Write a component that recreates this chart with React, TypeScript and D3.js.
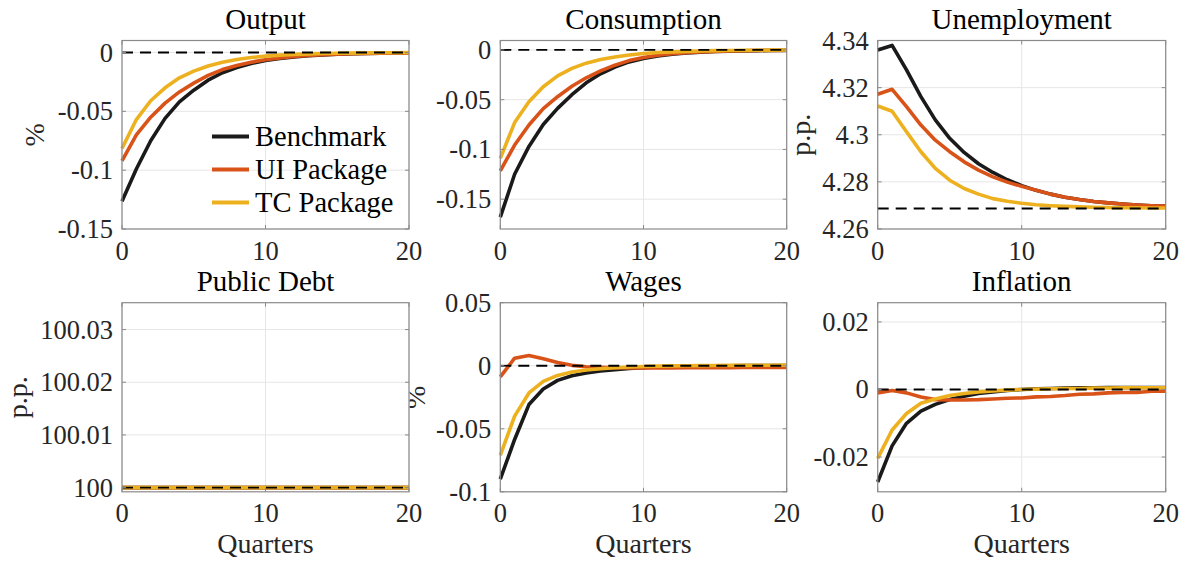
import React from "react";
import * as d3 from "d3";

// Quarters after the shock
const quarters = [0, 1, 2, 3, 4, 5, 6, 7, 8, 9, 10, 11, 12, 13, 14, 15, 16, 17, 18, 19, 20];

const seriesNames = ["Benchmark", "UI Package", "TC Package"];
const seriesColors = ["#1a1a1a", "#d95319", "#edb120"];

// Output (% deviation)
const outputBench = [-0.1265, -0.099, -0.075, -0.056, -0.042, -0.032, -0.0235, -0.0172, -0.0127, -0.0093, -0.0068, -0.005, -0.0037, -0.0027, -0.002, -0.0015, -0.0011, -0.0008, -0.0006, -0.0004, -0.0003];
const outputUI = [-0.092, -0.07, -0.055, -0.043, -0.0335, -0.026, -0.0195, -0.0145, -0.011, -0.0082, -0.0061, -0.0046, -0.0034, -0.0025, -0.0019, -0.0014, -0.001, -0.0008, -0.0006, -0.0004, -0.0003];
const outputTC = [-0.0816, -0.057, -0.041, -0.03, -0.0215, -0.0158, -0.0115, -0.0083, -0.006, -0.0043, -0.0031, -0.0022, -0.0016, -0.0012, -0.0009, -0.0006, -0.0005, -0.0003, -0.0002, -0.0002, -0.0001];

// Consumption (% deviation)
const consBench = [-0.168, -0.125, -0.097, -0.075, -0.0587, -0.045, -0.033, -0.024, -0.0172, -0.012, -0.0085, -0.006, -0.0043, -0.003, -0.0022, -0.0016, -0.0012, -0.0009, -0.0007, -0.0005, -0.0004];
const consUI = [-0.1215, -0.0956, -0.0755, -0.059, -0.047, -0.0365, -0.028, -0.021, -0.0153, -0.0107, -0.0075, -0.0053, -0.0038, -0.0028, -0.002, -0.0015, -0.0011, -0.0008, -0.0006, -0.0004, -0.0003];
const consTC = [-0.109, -0.073, -0.052, -0.037, -0.026, -0.0185, -0.0133, -0.0097, -0.007, -0.005, -0.0036, -0.0026, -0.0019, -0.0014, -0.001, -0.0007, -0.0005, -0.0004, -0.0003, -0.0002, -0.0001];

// Unemployment rate (p.p.)
const unempBench = [4.336, 4.3379, 4.3275, 4.3162, 4.3063, 4.2985, 4.2925, 4.2877, 4.284, 4.2809, 4.2784, 4.2764, 4.2748, 4.2735, 4.2725, 4.2717, 4.2711, 4.2706, 4.2702, 4.2699, 4.2697];
const unempUI = [4.3172, 4.3193, 4.3119, 4.3041, 4.2977, 4.2928, 4.2885, 4.285, 4.2821, 4.2799, 4.2781, 4.2764, 4.2748, 4.2735, 4.2725, 4.2717, 4.2711, 4.2706, 4.2702, 4.2699, 4.2697];
const unempTC = [4.3122, 4.31, 4.3013, 4.2928, 4.2857, 4.2807, 4.2772, 4.2748, 4.2729, 4.2718, 4.2709, 4.2703, 4.2699, 4.2696, 4.2694, 4.2692, 4.2691, 4.269, 4.269, 4.2689, 4.2689];

// Public debt (p.p.)
const debtBench = [100, 100, 100, 100, 100, 100, 100, 100, 100, 100, 100, 100, 100, 100, 100, 100, 100, 100, 100, 100, 100];
const debtUI = [100, 100, 100, 100, 100, 100, 100, 100, 100, 100, 100, 100, 100, 100, 100, 100, 100, 100, 100, 100, 100];
const debtTC = [100, 100, 100, 100, 100, 100, 100, 100, 100, 100, 100, 100, 100, 100, 100, 100, 100, 100, 100, 100, 100];

// Wages (% deviation)
const wagesBench = [-0.09, -0.0585, -0.0308, -0.0184, -0.0116, -0.0079, -0.0058, -0.0042, -0.0032, -0.0022, -0.0015, -0.001, -0.0006, -0.0004, -0.0002, -0.0001, 0, 0.0001, 0.0001, 0.0002, 0.0002];
const wagesUI = [-0.0089, 0.006, 0.0081, 0.0055, 0.0026, 0.0003, -0.0008, -0.0013, -0.0016, -0.0017, -0.0017, -0.0017, -0.0017, -0.0016, -0.0016, -0.0015, -0.0015, -0.0014, -0.0014, -0.0014, -0.0013];
const wagesTC = [-0.0711, -0.04, -0.0216, -0.0124, -0.0077, -0.005, -0.0034, -0.0024, -0.0016, -0.001, -0.0006, -0.0003, -0.0001, 0, 0.0001, 0.0002, 0.0003, 0.0003, 0.0004, 0.0004, 0.0005];

// Inflation
const inflBench = [-0.0274, -0.0167, -0.01, -0.0064, -0.0044, -0.003, -0.002, -0.0012, -0.0007, -0.0003, 0, 0.0002, 0.0003, 0.0004, 0.0005, 0.0005, 0.0006, 0.0006, 0.0006, 0.0006, 0.0006];
const inflUI = [-0.001, -0.0003, -0.001, -0.0022, -0.003, -0.0031, -0.0031, -0.003, -0.0028, -0.0026, -0.0025, -0.0022, -0.0021, -0.0018, -0.0014, -0.0013, -0.001, -0.0009, -0.0009, -0.0005, -0.0005];
const inflTC = [-0.0204, -0.012, -0.0071, -0.0041, -0.0028, -0.0018, -0.0012, -0.0007, -0.0004, -0.0002, 0, 0.0001, 0.0002, 0.0003, 0.0003, 0.0004, 0.0004, 0.0005, 0.0005, 0.0005, 0.0005];

// Steady-state reference levels (dashed lines)
const steadyOutput = 0;
const steadyCons = 0;
const steadyUnemp = 4.2687;
const steadyDebt = 100;
const steadyWages = 0;
const steadyInfl = 0;

// Axis ticks
const xTicks = [0, 10, 20];
const outputTicks = [-0.15, -0.1, -0.05, 0];
const consTicks = [-0.15, -0.1, -0.05, 0];
const unempTicks = [4.26, 4.28, 4.3, 4.32, 4.34];
const debtTicks = [100, 100.01, 100.02, 100.03];
const wagesTicks = [-0.1, -0.05, 0, 0.05];
const inflTicks = [-0.02, 0, 0.02];

const FONT = "'Liberation Serif', 'Times New Roman', serif";
const TEXT = "#262626";

type PanelSpec = {
  title: string;
  series: number[][];
  steady: number;
  yDomain: [number, number];
  yTicks: number[];
  yLabel?: string;
  yLabelX?: number;
  xLabel?: boolean;
  legend?: boolean;
  box: { x0: number; x1: number; y0: number; y1: number };
};

const fmt = (v: number) => d3.format("~g")(+v.toFixed(4)).replace("\u2212", "-");

function Panel({ p }: { p: PanelSpec }) {
  const { x0, x1, y0, y1 } = p.box;
  const x = d3.scaleLinear().domain([0, 20]).range([x0, x1]);
  const y = d3.scaleLinear().domain(p.yDomain).range([y1, y0]);
  const line = d3
    .line<number>()
    .x((_, i) => x(quarters[i]))
    .y((d) => y(d));
  const tickLen = 4;
  const midX = (x0 + x1) / 2;
  const midY = (y0 + y1) / 2;
  return (
    <g>
      {p.yLabel && (
        <text
          transform={`translate(${p.yLabelX},${midY}) rotate(-90)`}
          textAnchor="middle"
          fontFamily={FONT}
          fontSize={28}
          fill={TEXT}
        >
          {p.yLabel}
        </text>
      )}
      <rect x={x0} y={y0} width={x1 - x0} height={y1 - y0} fill="#fff" />
      {/* grid */}
      {p.yTicks.map((t) => (
        <line key={"gy" + t} x1={x0} x2={x1} y1={y(t)} y2={y(t)} stroke="#e6e6e6" strokeWidth={1} />
      ))}
      {xTicks.map((t) => (
        <line key={"gx" + t} x1={x(t)} x2={x(t)} y1={y0} y2={y1} stroke="#e6e6e6" strokeWidth={1} />
      ))}
      {/* series */}
      {p.series.map((s, i) => (
        <path
          key={"s" + i}
          d={line(s) || ""}
          fill="none"
          stroke={seriesColors[i]}
          strokeWidth={3.6}
          strokeLinejoin="round"
        />
      ))}
      <line
        x1={x0}
        x2={x1}
        y1={y(p.steady)}
        y2={y(p.steady)}
        stroke="#000"
        strokeWidth={1.8}
        strokeDasharray="11,7"
      />
      {/* axes box and ticks */}
      <rect x={x0} y={y0} width={x1 - x0} height={y1 - y0} fill="none" stroke="#8a8a8a" strokeWidth={1.2} />
      {p.yTicks.map((t) => (
        <g key={"ty" + t}>
          <line x1={x0} x2={x0 + tickLen} y1={y(t)} y2={y(t)} stroke="#8a8a8a" />
          <line x1={x1} x2={x1 - tickLen} y1={y(t)} y2={y(t)} stroke="#8a8a8a" />
          <text
            x={x0 - 9}
            y={y(t)}
            dy="0.34em"
            textAnchor="end"
            fontFamily={FONT}
            fontSize={26.5}
            fill={TEXT}
          >
            {fmt(t)}
          </text>
        </g>
      ))}
      {xTicks.map((t) => (
        <g key={"tx" + t}>
          <line x1={x(t)} x2={x(t)} y1={y1} y2={y1 - tickLen} stroke="#8a8a8a" />
          <line x1={x(t)} x2={x(t)} y1={y0} y2={y0 + tickLen} stroke="#8a8a8a" />
          <text
            x={x(t)}
            y={y1 + 30.5}
            textAnchor="middle"
            fontFamily={FONT}
            fontSize={26.5}
            fill={TEXT}
          >
            {t}
          </text>
        </g>
      ))}
      <text x={midX} y={y0 - 11.7} textAnchor="middle" fontFamily={FONT} fontSize={29} fill="#000">
        {p.title}
      </text>
      {p.xLabel && (
        <text x={midX} y={y1 + 61} textAnchor="middle" fontFamily={FONT} fontSize={28} fill={TEXT}>
          Quarters
        </text>
      )}
      {p.legend &&
        seriesNames.map((n, i) => (
          <g key={n} transform={`translate(${x0 + 90},${y0 + 96 + i * 33})`}>
            <line x1={0} x2={37} y1={0} y2={0} stroke={seriesColors[i]} strokeWidth={4} />
            <text x={43} y={0} dy="0.34em" fontFamily={FONT} fontSize={28.5} fill="#000">
              {n}
            </text>
          </g>
        ))}
    </g>
  );
}

export default function App() {
  const top = { y0: 40.5, y1: 229 };
  const bot = { y0: 302.7, y1: 491.8 };
  const c1 = { x0: 122, x1: 409 };
  const c2 = { x0: 500.3, x1: 786.7 };
  const c3 = { x0: 877.7, x1: 1165.7 };

  const panels: PanelSpec[] = [
    {
      title: "Output",
      series: [outputBench, outputUI, outputTC],
      steady: steadyOutput,
      yDomain: [-0.15, 0.0102],
      yTicks: outputTicks,
      yLabel: "%",
      yLabelX: 44,
      legend: true,
      box: { ...c1, ...top },
    },
    {
      title: "Consumption",
      series: [consBench, consUI, consTC],
      steady: steadyCons,
      yDomain: [-0.18, 0.0095],
      yTicks: consTicks,
      box: { ...c2, ...top },
    },
    {
      title: "Unemployment",
      series: [unempBench, unempUI, unempTC],
      steady: steadyUnemp,
      yDomain: [4.26, 4.34],
      yTicks: unempTicks,
      yLabel: "p.p.",
      yLabelX: 810,
      box: { ...c3, ...top },
    },
    {
      title: "Wages",
      series: [wagesBench, wagesUI, wagesTC],
      steady: steadyWages,
      yDomain: [-0.1, 0.05],
      yTicks: wagesTicks,
      yLabel: "%",
      yLabelX: 425,
      xLabel: true,
      box: { ...c2, ...bot },
    },
    {
      title: "Inflation",
      series: [inflBench, inflUI, inflTC],
      steady: steadyInfl,
      yDomain: [-0.0303, 0.0257],
      yTicks: inflTicks,
      xLabel: true,
      box: { ...c3, ...bot },
    },
    {
      title: "Public Debt",
      series: [debtBench, debtUI, debtTC],
      steady: steadyDebt,
      yDomain: [99.9992, 100.0351],
      yTicks: debtTicks,
      yLabel: "p.p.",
      yLabelX: 27,
      xLabel: true,
      box: { ...c1, ...bot },
    },
  ];

  return (
    <svg
      width={1185}
      height={566}
      style={{ position: "absolute", left: 0, top: 0, background: "#fff" }}
    >
      <rect width={1185} height={566} fill="#fff" />
      {panels.map((p) => (
        <Panel key={p.title} p={p} />
      ))}
    </svg>
  );
}
